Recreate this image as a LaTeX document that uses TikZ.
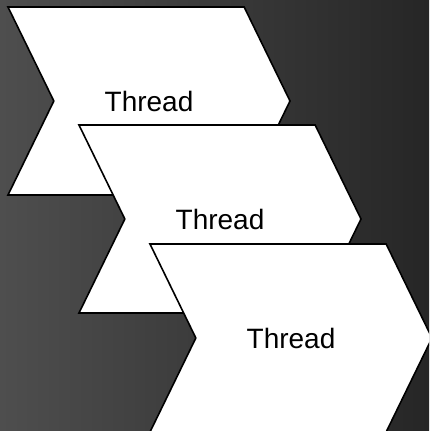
\documentclass[tikz,border=0pt]{standalone}
\usepackage{fontspec}
\setmainfont{Liberation Sans}
\usetikzlibrary{shapes.symbols}
\definecolor{bgleft}{RGB}{78,78,78}
\definecolor{bgright}{RGB}{38,38,38}

\begin{document}
\begin{tikzpicture}[x=1pt,y=-1pt,
 thread/.style={draw,fill=white,line width=1.6pt,shape=signal,signal from=west,signal to=east,
  signal pointer angle=128,minimum width=282pt,minimum height=188pt,inner sep=0pt,
  font=\fontsize{28}{30}\selectfont}]
\shade[left color=bgleft,right color=bgright] (0,0) rectangle (429,431);
\clip (0,0) rectangle (429,431);
% three overlapping stages, each one drawn over the last
\node[thread] (t1) at (149,101) {Thread};
\node[thread] (t2) at (220,219) {Thread};
\node[thread] (t3) at (291,338) {Thread};
\end{tikzpicture}
\end{document}
